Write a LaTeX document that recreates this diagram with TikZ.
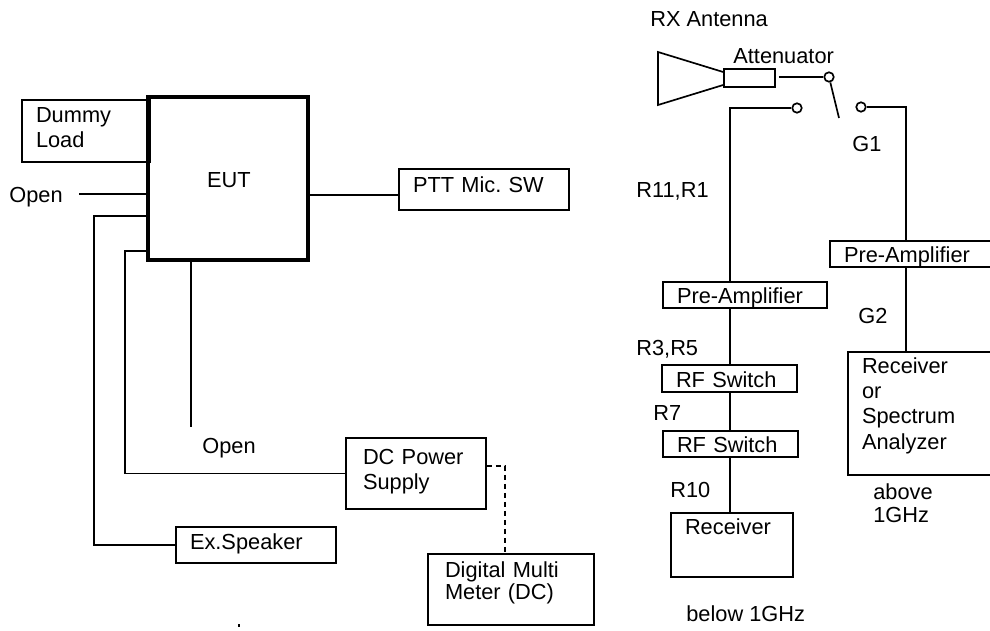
\documentclass[tikz,border=0pt]{standalone}
\usepackage{fontspec}
\setmainfont{Liberation Sans}
\usetikzlibrary{calc}
\tikzset{
  box/.style n args={3}{
    draw=black, line width=0.95pt, align=left, inner xsep=2.8mm, inner ysep=0pt,
    minimum width=#1mm, text width=#1mm-5.6mm,
    text height=#3mm, text depth=#2mm-#3mm
  },
  eutbox/.style={box={32}{32.6}{18}, line width=2.1pt, inner xsep=11.8mm, text width=8.4mm},
  anno/.style={anchor=base west, inner sep=0pt, align=left},
  wire/.style={draw=black, line width=0.95pt},
  dwire/.style={wire, dash pattern=on 1.1mm off 0.7mm},
  contact/.style={circle, draw=black, fill=white, line width=0.95pt, inner sep=0pt, minimum size=1.9mm},
  every picture/.append style={font=\fontsize{12.4}{14.5}\selectfont\frenchspacing, line join=miter}
}
\begin{document}
\begin{tikzpicture}[x=1cm,y=1cm]
  \useasboundingbox (0,0) rectangle (19.8,12.6);

  \node[box={25.6}{12.4}{4.4}] (load) at (1.72,9.98) {Dummy\\Load};
  \node[eutbox] (eut) at (4.56,9.03) {EUT};
  \node[box={34}{8.2}{4.6}] (ptt) at (9.68,8.81) {PTT Mic. SW};
  \node[box={32}{7.2}{4.4}] (spk) at (5.12,1.70) {Ex.Speaker};
  \node[box={28}{14.2}{5.2}, inner xsep=3.4mm, text width=21.2mm] (dc) at (8.32,3.13) {DC Power\\Supply};
  \node[box={33.2}{14.2}{4.6}, inner xsep=3.4mm, text width=26.4mm] (meter) at (10.22,0.81) {Digital Multi\\[-1.9pt]Meter (DC)};

  \node[box={10.2}{3.6}{3.6}] (att) at (14.99,11.04) {};
  \node[contact] (sw) at (16.58,11.06) {};
  \node[contact] (swl) at (15.94,10.44) {};
  \node[contact] (swr) at (17.22,10.46) {};

  \node[box={32.8}{5.2}{4.2}] (prel) at (14.90,6.70) {Pre-Amplifier};
  \node[box={27}{5.4}{4.4}] (rfa) at (14.59,5.03) {RF Switch};
  \node[box={27}{5.2}{4.2}] (rfb) at (14.61,3.72) {RF Switch};
  \node[box={24.4}{12.8}{4.2}] (rxl) at (14.64,1.70) {Receiver};
  \node[box={34}{5.2}{4.2}] (prer) at (18.30,7.52) {Pre-Amplifier};
  \node[box={30.4}{24.6}{4.2}] (rxr) at (18.48,4.33) {Receiver\\or\\Spectrum\\Analyzer};

  \coordinate (openl) at (1.58,8.72);
  \coordinate (opend) at (3.82,4.06);
  \coordinate (spkl) at (1.88,8.28);
  \coordinate (dcl) at (2.50,7.58);
  \coordinate (tap) at (10.10,3.28);
  \coordinate (hornt) at (13.16,11.56);
  \coordinate (hornb) at (13.16,10.50);
  \coordinate (arm) at (16.78,10.24);
  \coordinate (busl) at (14.60,6.00);
  \coordinate (busr) at (18.12,6.00);

  \draw[wire] (openl) -- (openl -| eut.west);
  \draw[wire] (eut.west |- spkl) -- (spkl) |- (spk.west);
  \draw[wire] (eut.west |- dcl) -- (dcl) |- (dc.west);
  \draw[wire] (opend |- eut.south) -- (opend);
  \draw[wire] (eut.east |- 0,8.70) -- (ptt.west |- 0,8.70);
  \draw[dwire] (dc.east |- tap) -- (tap) -- (tap |- meter.north);

  \draw[wire] (att.west |- 0,11.16) -- (hornt) -- (hornb) -- (att.west |- 0,10.90);
  \draw[wire] ($(att.east |- sw)+(0.06,0)$) -- (sw);
  \draw[wire] (sw) -- (arm);
  \draw[wire] (swl) -| (busl |- prel.north);
  \draw[wire] (busl |- prel.south) -- (busl |- rfa.north);
  \draw[wire] (busl |- rfa.south) -- (busl |- rfb.north);
  \draw[wire] (busl |- rfb.south) -- (busl |- rxl.north);
  \draw[wire] (swr) -| (busr |- prer.north);
  \draw[wire] (busr |- prer.south) -- (busr |- rxr.north);

  \node[anno] (rxant) at (13.00,12.08) {RX Antenna};
  \node[anno] (attlab) at (14.66,11.34) {Attenuator};
  \node[anno] (gone) at (17.04,9.58) {G1};
  \node[anno] (rele) at (12.72,8.66) {R11,R1};
  \node[anno] (rthree) at (12.72,5.50) {R3,R5};
  \node[anno] (rseven) at (13.06,4.20) {R7};
  \node[anno] (rten) at (13.40,2.66) {R10};
  \node[anno] (gtwo) at (17.16,6.14) {G2};
  \node[anno, text width=20mm] (above) at (17.46,2.62) {above\\[-1pt]1GHz};
  \node[anno] (below) at (13.72,0.18) {below 1GHz};
  \node[anno] (opena) at (0.18,8.56) {Open};
  \node[anno] (openb) at (4.04,3.54) {Open};
  \node[fill=black, inner sep=0pt, minimum width=0.4mm, minimum height=0.6mm] (speck) at (4.78,0.10) {};
\end{tikzpicture}
\end{document}
